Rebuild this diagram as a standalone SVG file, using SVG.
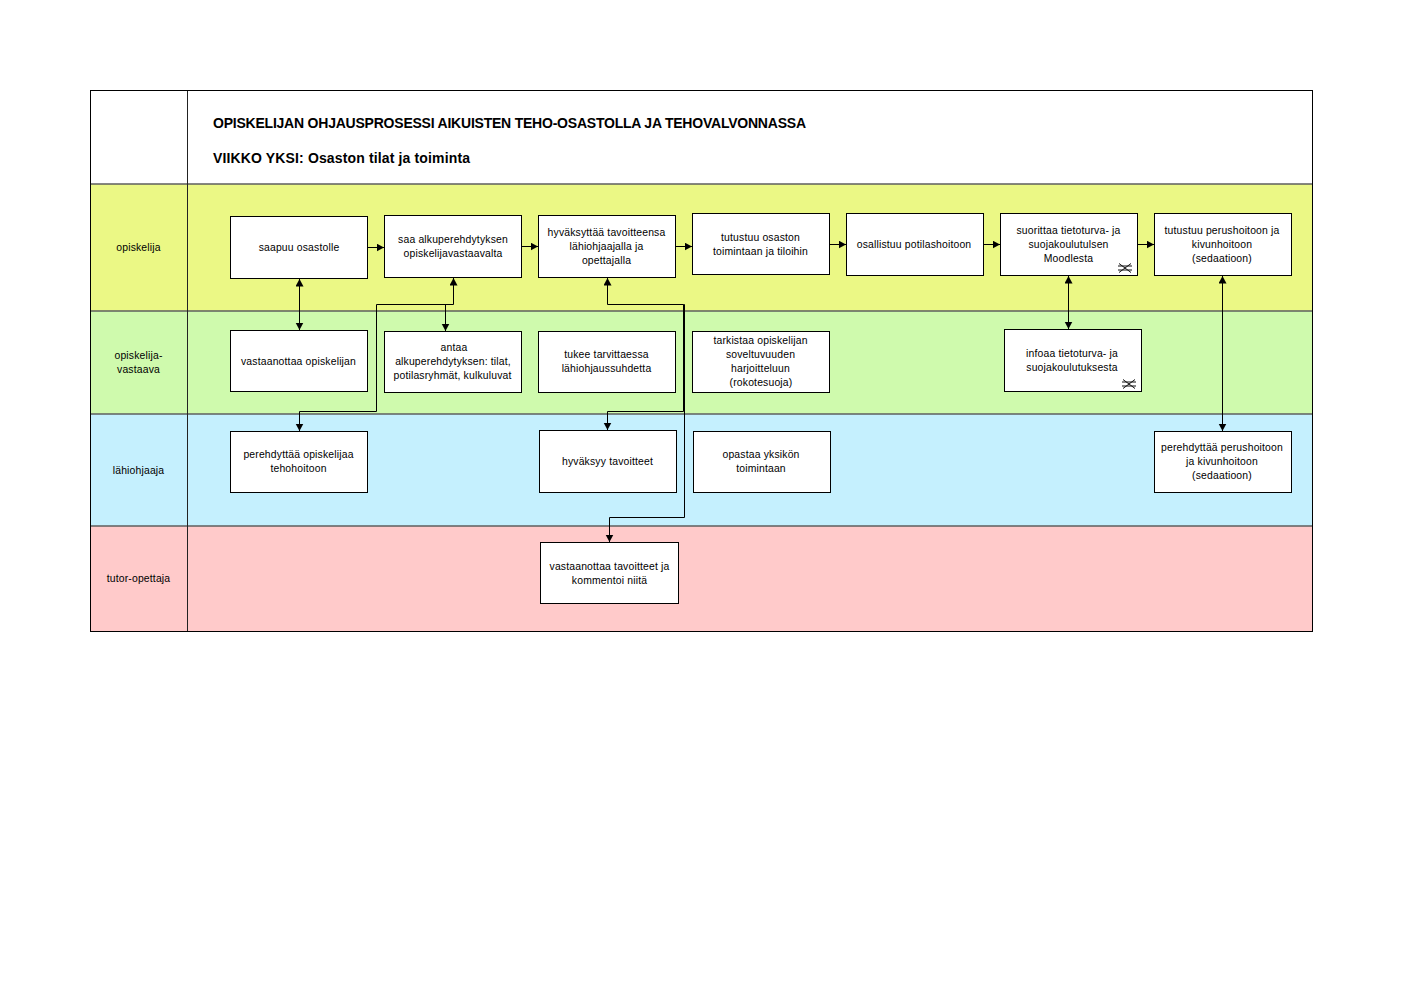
<svg xmlns="http://www.w3.org/2000/svg" width="1403" height="992" viewBox="0 0 1403 992">
<style>
.n{fill:#fff;stroke:#000;stroke-width:1}
text{font-family:"Liberation Sans",Arial,sans-serif;font-size:10.4px;letter-spacing:.17px;fill:#000;text-anchor:middle}
.t{font-size:14px;font-weight:bold;text-anchor:start;letter-spacing:0}
.c{fill:none;stroke:#000;stroke-width:1}
.s{fill:none;stroke:#5f5f5f;stroke-width:1.5}
.i{fill:none;stroke:#111;stroke-width:1}
</style>
<defs>
<marker id="a" markerUnits="userSpaceOnUse" markerWidth="9" markerHeight="9" refX="7.500" refY="4" orient="auto-start-reverse"><path d="M0 0L7.500 4L0 8Z" fill="#000"/></marker>
<g id="ic"><path class="i" d="M0 2.500H14M0 6.500H14M1 0L7 4.500L13 0M1 9L7 4.500L13 9"/></g>
</defs>
<g id="bands">
<rect x="90.500" y="90.500" width="1222" height="93.500" fill="#fff"/>
<rect x="90.500" y="184" width="1222" height="127" fill="#ebf885"/>
<rect x="90.500" y="311" width="1222" height="103" fill="#cffaad"/>
<rect x="90.500" y="414" width="1222" height="112" fill="#c5f0fe"/>
<rect x="90.500" y="526" width="1222" height="105.500" fill="#ffcaca"/>
<path class="s" d="M90.500 184H1312.500M90.500 311H1312.500M90.500 414H1312.500M90.500 526H1312.500"/>
<path fill="none" stroke="#222" d="M187.500 90.500V631.500"/>
<rect x="90.500" y="90.500" width="1222" height="541" fill="none" stroke="#000"/>
</g>
<g id="title">
<text class="t" x="213" y="128" textLength="593">OPISKELIJAN OHJAUSPROSESSI AIKUISTEN TEHO-OSASTOLLA JA TEHOVALVONNASSA</text>
<text class="t" x="213" y="163" textLength="257">VIIKKO YKSI: Osaston tilat ja toiminta</text>
</g>
<g id="lanes">
<text x="138.500" y="251">opiskelija</text>
<text x="138.500" y="359">opiskelija-</text><text x="138.500" y="373">vastaava</text>
<text x="138.500" y="474">lähiohjaaja</text>
<text x="138.500" y="582">tutor-opettaja</text>
</g>
<g id="n1"><rect class="n" x="230.500" y="216.500" width="137" height="62"/><text x="299" y="251">saapuu osastolle</text></g>
<g id="n2"><rect class="n" x="384.500" y="215.500" width="137" height="62"/><text x="453" y="243">saa alkuperehdytyksen</text><text x="453" y="257">opiskelijavastaavalta</text></g>
<g id="n3"><rect class="n" x="538.500" y="215.500" width="137" height="62"/><text x="606.500" y="236">hyväksyttää tavoitteensa</text><text x="606.500" y="250">lähiohjaajalla ja</text><text x="606.500" y="264">opettajalla</text></g>
<g id="n4"><rect class="n" x="692.500" y="213.500" width="137" height="61"/><text x="760.500" y="241">tutustuu osaston</text><text x="760.500" y="255">toimintaan ja tiloihin</text></g>
<g id="n5"><rect class="n" x="846.500" y="213.500" width="137" height="62"/><text x="914" y="248">osallistuu potilashoitoon</text></g>
<g id="n6"><rect class="n" x="1000.500" y="213.500" width="137" height="62"/><text x="1068.500" y="234">suorittaa tietoturva- ja</text><text x="1068.500" y="248">suojakoulutulsen</text><text x="1068.500" y="262">Moodlesta</text><use href="#ic" x="1118" y="263.500"/></g>
<g id="n7"><rect class="n" x="1154.500" y="213.500" width="137" height="62"/><text x="1222" y="234">tutustuu perushoitoon ja</text><text x="1222" y="248">kivunhoitoon</text><text x="1222" y="262">(sedaatioon)</text></g>
<g id="n8"><rect class="n" x="230.500" y="330.500" width="137" height="61"/><text x="298.500" y="365">vastaanottaa opiskelijan</text></g>
<g id="n9"><rect class="n" x="384.500" y="331.500" width="137" height="61"/><text x="454" y="351">antaa</text><text x="453" y="365">alkuperehdytyksen: tilat,</text><text x="452.500" y="379">potilasryhmät, kulkuluvat</text></g>
<g id="n10"><rect class="n" x="538.500" y="331.500" width="137" height="61"/><text x="606.500" y="358">tukee tarvittaessa</text><text x="606.500" y="372">lähiohjaussuhdetta</text></g>
<g id="n11"><rect class="n" x="692.500" y="331.500" width="137" height="61"/><text x="760.500" y="344">tarkistaa opiskelijan</text><text x="760.500" y="358">soveltuvuuden</text><text x="760.500" y="372">harjoitteluun</text><text x="761" y="386">(rokotesuoja)</text></g>
<g id="n12"><rect class="n" x="1004.500" y="329.500" width="137" height="62"/><text x="1072" y="357">infoaa tietoturva- ja</text><text x="1072" y="371">suojakoulutuksesta</text><use href="#ic" x="1122" y="379.500"/></g>
<g id="n13"><rect class="n" x="230.500" y="431.500" width="137" height="61"/><text x="298.500" y="458">perehdyttää opiskelijaa</text><text x="298.500" y="472">tehohoitoon</text></g>
<g id="n14"><rect class="n" x="539.500" y="430.500" width="137" height="62"/><text x="607.500" y="465">hyväksyy tavoitteet</text></g>
<g id="n15"><rect class="n" x="693.500" y="431.500" width="137" height="61"/><text x="761" y="458">opastaa yksikön</text><text x="761" y="472">toimintaan</text></g>
<g id="n16"><rect class="n" x="1154.500" y="431.500" width="137" height="61"/><text x="1222" y="451">perehdyttää perushoitoon</text><text x="1222" y="465">ja kivunhoitoon</text><text x="1222" y="479">(sedaatioon)</text></g>
<g id="n17"><rect class="n" x="540.500" y="542.500" width="138" height="61"/><text x="609.500" y="570">vastaanottaa tavoitteet ja</text><text x="609.500" y="584">kommentoi niitä</text></g>
<g id="connectors">
<path class="c" marker-end="url(#a)" d="M368 247.500H384"/>
<path class="c" marker-end="url(#a)" d="M522 246.500H538"/>
<path class="c" marker-end="url(#a)" d="M676 246.500H692"/>
<path class="c" marker-end="url(#a)" d="M830 244.500H846"/>
<path class="c" marker-end="url(#a)" d="M984 244.500H1000"/>
<path class="c" marker-end="url(#a)" d="M1138 244.500H1154"/>
<path class="c" marker-start="url(#a)" marker-end="url(#a)" d="M299.500 279V330"/>
<path class="c" marker-start="url(#a)" marker-end="url(#a)" d="M1068.500 276V329"/>
<path class="c" marker-start="url(#a)" marker-end="url(#a)" d="M1222.500 276V431"/>
<path class="c" marker-start="url(#a)" marker-end="url(#a)" d="M453.500 278V304.500H376.500V411.500H299.500V431"/>
<path class="c" marker-end="url(#a)" d="M445.500 304.500V331"/>
<path class="c" marker-start="url(#a)" marker-end="url(#a)" d="M607.500 278V304.500H683.500V411.500H607.500V430"/>
<path class="c" marker-end="url(#a)" d="M683.500 304.500H684.500V517.500H609.500V542"/>
</g>
</svg>
